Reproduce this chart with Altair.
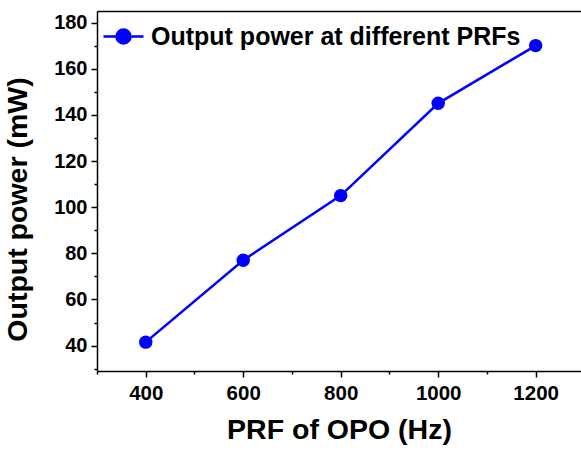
import altair as alt
import pandas as pd

prf = [400, 600, 800, 1000, 1200]
power = [41.5, 77, 105, 145, 170]
series_name = "Output power at different PRFs"
x_tick_values = [300, 400, 500, 600, 700, 800, 900, 1000, 1100, 1200]
y_tick_values = [30, 40, 50, 60, 70, 80, 90, 100, 110, 120, 130, 140, 150, 160, 170, 180]

df = pd.DataFrame({"prf": prf, "power": power, "series": [series_name] * len(prf)})

FONT = "Liberation Sans"
BLUE = "#0000ff"

xscale = alt.Scale(domain=[300, 1293], nice=False, zero=False)
yscale = alt.Scale(domain=[29, 185], nice=False, zero=False)

y_axis = alt.Axis(
    values=y_tick_values,
    labelExpr="datum.value % 20 === 0 ? datum.label : ''",
    tickSize={"condition": {"test": "datum.value % 20 === 0", "value": 6}, "value": 3},
    domainColor="black", domainWidth=1.5, tickColor="black", tickWidth=1.5,
    labelFont=FONT, labelFontSize=20, labelFontWeight="bold", labelColor="black",
    labelPadding=4, grid=False,
    title="Output power (mW)", titleFont=FONT, titleFontSize=28.5, titleFontWeight="bold",
    titleColor="black", titleX=-80, titleY=198, titleAlign="center", titleBaseline="middle",
    titleAngle=270,
)

x_axis = alt.Axis(
    orient="bottom",
    values=x_tick_values,
    labelExpr="datum.value % 200 === 0 ? datum.label : ''",
    tickSize={"condition": {"test": "datum.value % 200 === 0", "value": 6}, "value": 3},
    format="d",
    domainColor="black", domainWidth=1.5, tickColor="black", tickWidth=1.5,
    labelFont=FONT, labelFontSize=20.5, labelFontWeight="bold", labelColor="black",
    labelPadding=6, grid=False,
    title="PRF of OPO (Hz)", titleFont=FONT, titleFontSize=28.5, titleFontWeight="bold",
    titleColor="black", titlePadding=12,
)

top_axis = alt.Axis(orient="top", labels=False, ticks=False, title=None,
                    domainColor="black", domainWidth=1.5, grid=False)

legend = alt.Legend(
    title=None, orient="none", legendX=5, legendY=4, padding=0,
    symbolType="M-1,0L1,0M-0.35,0A0.35,0.35 0 1,0 0.35,0A0.35,0.35 0 1,0 -0.35,0Z",
    symbolSize=1600, symbolStrokeWidth=2.5, symbolFillColor=BLUE, symbolStrokeColor=BLUE,
    labelFont=FONT, labelFontSize=25, labelFontWeight="bold", labelColor="black",
    labelOffset=6, labelLimit=0,
)

color = alt.Color("series:N", scale=alt.Scale(range=[BLUE]), legend=legend)

line = alt.Chart(df).mark_line(strokeWidth=2.5).encode(
    x=alt.X("prf:Q", scale=xscale, axis=x_axis),
    y=alt.Y("power:Q", scale=yscale, axis=y_axis),
    color=color,
)

points = alt.Chart(df).mark_point(filled=True, size=180, opacity=1).encode(
    x=alt.X("prf:Q", scale=xscale, axis=top_axis),
    y=alt.Y("power:Q", scale=yscale, axis=y_axis),
    color=color,
)

chart = alt.layer(line, points).resolve_axis(x="independent").properties(
    width=484, height=360,
    autosize=alt.AutoSizeParams(type="none"),
    padding={"left": 97, "top": 11, "right": 0, "bottom": 80},
    background="white",
).configure_view(stroke=None)

chart.save("out.html", embed_options={"renderer": "svg", "actions": False})
